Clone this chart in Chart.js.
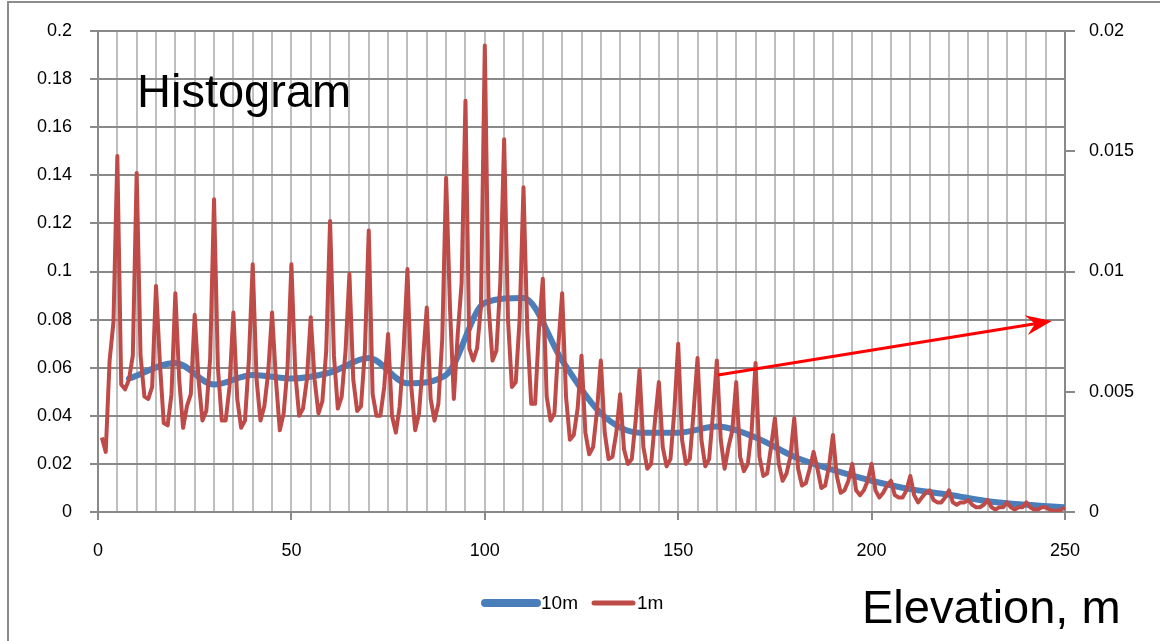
<!DOCTYPE html>
<html>
<head>
<meta charset="utf-8">
<script src="https://cdn.jsdelivr.net/npm/chart.js@4.4.0/dist/chart.umd.min.js"></script>
<style>
  html, body { margin: 0; padding: 0; background: #fff; }
  #wrap { width: 1160px; height: 641px; }
</style>
</head>
<body>
<div id="wrap"><canvas id="chart" width="1160" height="641"></canvas></div>
<script>
// 10 m bins (left axis)
const elevation10m = [8, 20, 30, 40, 50, 60, 70, 80, 90, 100, 110, 120, 130, 140, 150, 160, 170, 180, 190, 200, 210, 220, 230, 240, 250];
const hist10m = [0.0555, 0.062, 0.053, 0.057, 0.0555, 0.058, 0.064, 0.0535, 0.057, 0.087, 0.089, 0.063, 0.041, 0.033, 0.033, 0.0355, 0.031, 0.023, 0.0175, 0.013, 0.0095, 0.0072, 0.0045, 0.003, 0.002];

// 1 m bins (right axis), elevations 1..250
const firstElevation1m = 1;
const hist1m = [
  0.0031, 0.0025, 0.0063, 0.0079, 0.0148, 0.0053, 0.0051, 0.0055, 0.0065, 0.0141,
  0.0065, 0.0048, 0.0047, 0.0052, 0.0094, 0.0062, 0.0037, 0.0036, 0.0049, 0.0091,
  0.0055, 0.0035, 0.0044, 0.0049, 0.0082, 0.0055, 0.0038, 0.0042, 0.0064, 0.0130,
  0.0060, 0.0038, 0.0038, 0.0052, 0.0083, 0.0047, 0.0035, 0.0038, 0.0063, 0.0103,
  0.0055, 0.0038, 0.0044, 0.0058, 0.0083, 0.0055, 0.0034, 0.0041, 0.0060, 0.0103,
  0.0058, 0.0040, 0.0043, 0.0055, 0.0081, 0.0055, 0.0041, 0.0046, 0.0067, 0.0121,
  0.0065, 0.0043, 0.0048, 0.0067, 0.0099, 0.0055, 0.0042, 0.0044, 0.0067, 0.0117,
  0.0049, 0.0040, 0.0040, 0.0052, 0.0074, 0.0040, 0.0033, 0.0044, 0.0067, 0.0101,
  0.0052, 0.0034, 0.0041, 0.0063, 0.0085, 0.0047, 0.0038, 0.0045, 0.0072, 0.0139,
  0.0085, 0.0047, 0.0074, 0.0095, 0.0171, 0.0068, 0.0063, 0.0068, 0.0085, 0.0194,
  0.0085, 0.0063, 0.0067, 0.0095, 0.0155, 0.0080, 0.0052, 0.0054, 0.0080, 0.0135,
  0.0075, 0.0045, 0.0045, 0.0076, 0.0097, 0.0048, 0.0038, 0.0041, 0.0069, 0.0091,
  0.0048, 0.0030, 0.0032, 0.0043, 0.0065, 0.0033, 0.0024, 0.0027, 0.0042, 0.0063,
  0.0033, 0.0022, 0.0023, 0.0033, 0.0049, 0.0026, 0.0020, 0.0022, 0.0038, 0.0059,
  0.0027, 0.0018, 0.0020, 0.0038, 0.0054, 0.0027, 0.0019, 0.0022, 0.0042, 0.0070,
  0.0030, 0.0020, 0.0022, 0.0042, 0.0064, 0.0030, 0.0019, 0.0022, 0.0041, 0.0063,
  0.0030, 0.0018, 0.0027, 0.0034, 0.0054, 0.0023, 0.0017, 0.0020, 0.0034, 0.0062,
  0.0023, 0.0015, 0.0016, 0.0027, 0.0039, 0.0020, 0.0013, 0.0016, 0.0023, 0.0039,
  0.0018, 0.0011, 0.0012, 0.0018, 0.0025, 0.0018, 0.0010, 0.0011, 0.0019, 0.0032,
  0.0015, 0.0008, 0.0009, 0.0013, 0.0020, 0.0009, 0.0007, 0.0009, 0.0013, 0.0020,
  0.0009, 0.0006, 0.0008, 0.0011, 0.0013, 0.0007, 0.0006, 0.0006, 0.0009, 0.0015,
  0.0007, 0.0004, 0.0006, 0.0008, 0.0009, 0.0005, 0.0004, 0.0004, 0.0006, 0.0009,
  0.0004, 0.0003, 0.0004, 0.0004, 0.0005, 0.0003, 0.0002, 0.0002, 0.0003, 0.0005,
  0.0002, 0.0001, 0.0002, 0.0002, 0.0004, 0.0002, 0.0001, 0.0002, 0.0002, 0.0004,
  0.0002, 0.0001, 0.0001, 0.0002, 0.0002, 0.0001, 0.00005, 0.00005, 0.0001, 0.0002
];

const xLabels = [0, 50, 100, 150, 200, 250];
const leftTicks = [0, 0.02, 0.04, 0.06, 0.08, 0.1, 0.12, 0.14, 0.16, 0.18, 0.2];
const rightTicks = [0, 0.005, 0.01, 0.015, 0.02];

// red arrow (x in m, y on left axis)
const arrowFrom = [160.3, 0.057];
const arrowTo = [246.6, 0.0794];

const FONT = "'Liberation Sans', Arial, sans-serif";
const BLUE = '#4a7ebb';
const RED = '#be4b48';
const GRID_DARK = '#898989';
const GRID_LIGHT = '#bfbfbf';

const fmt = v => String(parseFloat(v.toFixed(4)));

const extras = {
  id: 'extras',
  beforeDraw(chart) {
    const ctx = chart.ctx;
    ctx.save();
    ctx.fillStyle = '#fff';
    ctx.fillRect(0, 0, chart.width, chart.height);
    ctx.strokeStyle = '#8c8c8c';
    ctx.lineWidth = 2;
    ctx.beginPath();
    ctx.moveTo(8, chart.height);
    ctx.lineTo(8, 2);
    ctx.lineTo(chart.width, 2);
    ctx.stroke();
    ctx.restore();
  },
  afterDatasetsDraw(chart) {
    const ctx = chart.ctx;
    const sx = chart.scales.x, sy = chart.scales.y;
    const x0 = sx.getPixelForValue(arrowFrom[0]), y0 = sy.getPixelForValue(arrowFrom[1]);
    const x1 = sx.getPixelForValue(arrowTo[0]), y1 = sy.getPixelForValue(arrowTo[1]);
    const len = Math.hypot(x1 - x0, y1 - y0);
    const ux = (x1 - x0) / len, uy = (y1 - y0) / len;
    const nx = -uy, ny = ux;
    const L = 26, W = 10, notch = 17;
    ctx.save();
    ctx.strokeStyle = '#ff0000';
    ctx.fillStyle = '#ff0000';
    ctx.lineWidth = 3;
    ctx.beginPath();
    ctx.moveTo(x0, y0);
    ctx.lineTo(x1 - ux * notch, y1 - uy * notch);
    ctx.stroke();
    ctx.beginPath();
    ctx.moveTo(x1, y1);
    ctx.lineTo(x1 - ux * L + nx * W, y1 - uy * L + ny * W);
    ctx.lineTo(x1 - ux * notch, y1 - uy * notch);
    ctx.lineTo(x1 - ux * L - nx * W, y1 - uy * L - ny * W);
    ctx.closePath();
    ctx.fill();
    ctx.restore();
  },
  afterDraw(chart) {
    const ctx = chart.ctx;
    ctx.save();
    ctx.fillStyle = '#000';
    ctx.textBaseline = 'alphabetic';
    ctx.font = '47px ' + FONT;
    ctx.fillText('Histogram', 137, 107);
    ctx.font = '47px ' + FONT;
    ctx.fillText('Elevation, m', 862, 623);

    // legend
    const ly = 603;
    ctx.lineCap = 'round';
    ctx.strokeStyle = BLUE;
    ctx.lineWidth = 8;
    ctx.beginPath(); ctx.moveTo(485, ly); ctx.lineTo(537, ly); ctx.stroke();
    ctx.strokeStyle = RED;
    ctx.lineWidth = 5;
    ctx.beginPath(); ctx.moveTo(594, ly); ctx.lineTo(633, ly); ctx.stroke();
    ctx.font = '19px ' + FONT;
    ctx.textBaseline = 'middle';
    ctx.fillStyle = '#000';
    ctx.fillText('10m', 541, ly + 1);
    ctx.fillText('1m', 637, ly + 1);
    ctx.restore();
  }
};

new Chart(document.getElementById('chart'), {
  type: 'line',
  data: {
    datasets: [
      {
        label: '10m',
        data: elevation10m.map((e, i) => ({ x: e, y: hist10m[i] })),
        yAxisID: 'y',
        borderColor: BLUE,
        borderWidth: 6,
        borderCapStyle: 'round',
        cubicInterpolationMode: 'monotone',
        pointRadius: 0,
        order: 2
      },
      {
        label: '1m',
        data: hist1m.map((v, i) => ({ x: firstElevation1m + i, y: v })),
        yAxisID: 'y2',
        borderColor: RED,
        borderWidth: 4,
        borderJoinStyle: 'round',
        tension: 0,
        pointRadius: 0,
        order: 1
      }
    ]
  },
  options: {
    responsive: false,
    animation: false,
    layout: { padding: { top: 31, left: 0, right: 0, bottom: 0 } },
    plugins: { legend: { display: false }, tooltip: { enabled: false } },
    scales: {
      x: {
        type: 'linear',
        min: 0,
        max: 250,
        afterBuildTicks: s => { s.ticks = []; for (let v = 0; v <= 250; v += 5) s.ticks.push({ value: v }); },
        afterFit: s => { s.height = 129; },
        ticks: {
          autoSkip: false,
          maxRotation: 0,
          padding: 20,
          color: '#000',
          font: { family: FONT, size: 18 },
          callback: v => (xLabels.includes(v) ? String(v) : '')
        },
        grid: {
          color: c => (c.tick && (c.tick.value === 0 || c.tick.value === 250) ? GRID_DARK : GRID_LIGHT),
          lineWidth: 2,
          tickLength: 8,
          tickColor: c => (c.tick && xLabels.includes(c.tick.value) ? GRID_DARK : 'rgba(0,0,0,0)')
        },
        border: { display: true, color: GRID_DARK, width: 2 }
      },
      y: {
        position: 'left',
        min: 0,
        max: 0.2,
        afterBuildTicks: s => { s.ticks = leftTicks.map(v => ({ value: v })); },
        afterFit: s => { s.width = 98; },
        ticks: {
          padding: 18,
          color: '#000',
          font: { family: FONT, size: 18 },
          callback: v => fmt(v)
        },
        grid: { color: GRID_DARK, lineWidth: 2, tickLength: 8 },
        border: { display: true, color: GRID_DARK, width: 2 }
      },
      y2: {
        position: 'right',
        min: 0,
        max: 0.02,
        afterBuildTicks: s => { s.ticks = rightTicks.map(v => ({ value: v })); },
        afterFit: s => { s.width = 95; },
        ticks: {
          padding: 14,
          color: '#000',
          font: { family: FONT, size: 18 },
          callback: v => fmt(v)
        },
        grid: { drawOnChartArea: false, color: GRID_DARK, lineWidth: 2, tickLength: 10 },
        border: { display: true, color: GRID_DARK, width: 2 }
      }
    }
  },
  plugins: [extras]
});
</script>
</body>
</html>
